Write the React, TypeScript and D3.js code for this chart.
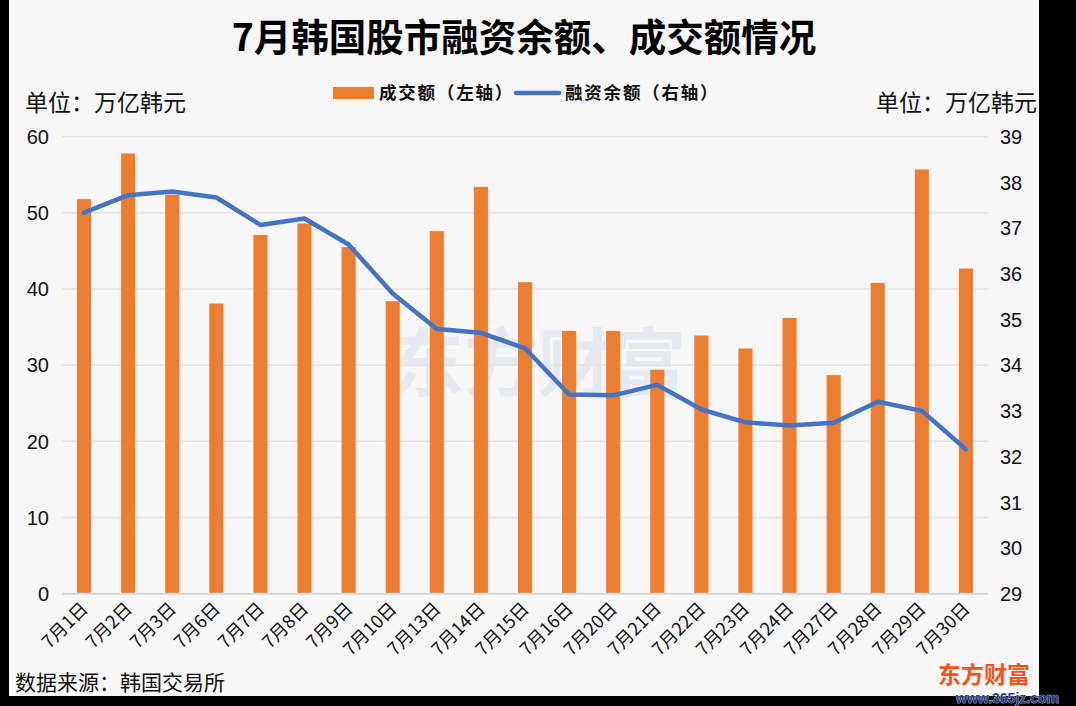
import React, { useEffect, useRef } from "react";
import * as d3 from "d3";

// --- Data
const dates = [
  "7月1日", "7月2日", "7月3日", "7月6日", "7月7日", "7月8日", "7月9日",
  "7月10日", "7月13日", "7月14日", "7月15日", "7月16日", "7月20日", "7月21日",
  "7月22日", "7月23日", "7月24日", "7月27日", "7月28日", "7月29日", "7月30日",
];
const turnover = [
  51.8, 57.8, 52.4, 38.1, 47.1, 48.6, 45.5, 38.4, 47.6, 53.4, 40.9,
  34.5, 34.5, 29.4, 33.9, 32.2, 36.2, 28.7, 40.8, 55.7, 42.7,
];
const marginBalance = [
  37.34, 37.72, 37.8, 37.67, 37.07, 37.21, 36.64, 35.57, 34.79, 34.71, 34.37,
  33.36, 33.34, 33.57, 33.03, 32.75, 32.68, 32.74, 33.2, 33.0, 32.16,
];
const leftTicks = [0, 10, 20, 30, 40, 50, 60];
const rightTicks = [29, 30, 31, 32, 33, 34, 35, 36, 37, 38, 39];

const FONT = "'Liberation Sans', 'Noto Sans CJK SC', sans-serif";
const CJK = "'Noto Sans CJK SC', sans-serif";

const App: React.FC = () => {
  const ref = useRef<SVGSVGElement | null>(null);

  useEffect(() => {
    if (!ref.current) return;
    const width = 1076;
    const height = 706;
    const plot = { left: 62, right: 988, top: 136.7, bottom: 593.7 };

    const svg = d3.select(ref.current).attr("width", width).attr("height", height);
    svg.selectAll("*").remove();

    // frame
    svg.append("rect").attr("width", width).attr("height", height).attr("fill", "#000");
    svg.append("rect").attr("x", 9).attr("y", 0).attr("width", 1030).attr("height", 696).attr("fill", "#f7f7f7");

    const x = d3.scaleBand<string>().domain(dates).range([plot.left, plot.right]).paddingInner(0.68).paddingOuter(0.34);
    const yL = d3.scaleLinear().domain([0, 60]).range([plot.bottom, plot.top]);
    const yR = d3.scaleLinear().domain([29, 39]).range([plot.bottom, plot.top]);

    // watermark
    svg.append("text")
      .attr("x", 538).attr("y", 390)
      .attr("text-anchor", "middle")
      .style("font-family", CJK).style("font-size", "74px").style("font-weight", "bold")
      .style("fill", "#e5eaf0")
      .text("东方财富");

    // gridlines
    svg.append("g").selectAll("line")
      .data(leftTicks.filter((t) => t !== 0))
      .join("line")
      .attr("x1", plot.left).attr("x2", plot.right)
      .attr("y1", (d) => yL(d)).attr("y2", (d) => yL(d))
      .attr("stroke", "#e3e3e3").attr("stroke-width", 1.5);

    // bars
    svg.append("g").selectAll("rect")
      .data(turnover)
      .join("rect")
      .attr("x", (_, i) => x(dates[i])!)
      .attr("width", x.bandwidth())
      .attr("y", (d) => yL(d))
      .attr("height", (d) => yL(0) - yL(d))
      .attr("fill", "#ed7d31");

    // baseline
    svg.append("line")
      .attr("x1", plot.left).attr("x2", plot.right)
      .attr("y1", yL(0)).attr("y2", yL(0))
      .attr("stroke", "#d6d6d6").attr("stroke-width", 2);

    // line
    const line = d3.line<number>()
      .x((_, i) => x(dates[i])! + x.bandwidth() / 2)
      .y((d) => yR(d));
    svg.append("path")
      .datum(marginBalance)
      .attr("d", line)
      .attr("fill", "none")
      .attr("stroke", "#4472c4")
      .attr("stroke-width", 4.5)
      .attr("stroke-linejoin", "round")
      .attr("stroke-linecap", "round");

    // left axis labels
    svg.append("g").selectAll("text")
      .data(leftTicks)
      .join("text")
      .attr("x", 49).attr("y", (d) => yL(d))
      .attr("dy", "0.36em")
      .attr("text-anchor", "end")
      .style("font-family", FONT).style("font-size", "20px").style("fill", "#111")
      .text((d) => d);

    // right axis labels
    svg.append("g").selectAll("text")
      .data(rightTicks)
      .join("text")
      .attr("x", 1000).attr("y", (d) => yR(d))
      .attr("dy", "0.36em")
      .style("font-family", FONT).style("font-size", "20px").style("fill", "#111")
      .text((d) => d);

    // x labels
    svg.append("g").selectAll("text")
      .data(dates)
      .join("text")
      .attr("transform", (d) => `translate(${x(d)! + x.bandwidth() / 2 + 5}, 610) rotate(-45)`)
      .attr("text-anchor", "end")
      .style("font-family", CJK).style("font-size", "18px").style("fill", "#111")
      .text((d) => d);

    // title
    svg.append("text")
      .attr("x", 524).attr("y", 51)
      .attr("text-anchor", "middle")
      .style("font-family", CJK).style("font-size", "37.5px").style("font-weight", "bold")
      .style("fill", "#000")
      .text("7月韩国股市融资余额、成交额情况");

    // unit labels
    svg.append("text")
      .attr("x", 25).attr("y", 111)
      .style("font-family", CJK).style("font-size", "23px").style("fill", "#111")
      .text("单位：万亿韩元");
    svg.append("text")
      .attr("x", 1037).attr("y", 111)
      .attr("text-anchor", "end")
      .style("font-family", CJK).style("font-size", "23px").style("fill", "#111")
      .text("单位：万亿韩元");

    // legend
    const legend = svg.append("g");
    legend.append("rect").attr("x", 333).attr("y", 87).attr("width", 41).attr("height", 12).attr("fill", "#ed7d31");
    legend.append("text")
      .attr("x", 379).attr("y", 99)
      .style("font-family", CJK).style("font-size", "17.5px").style("font-weight", "bold")
      .style("letter-spacing", "1.8px").style("fill", "#111")
      .text("成交额（左轴）");
    legend.append("line")
      .attr("x1", 516).attr("x2", 559).attr("y1", 93).attr("y2", 93)
      .attr("stroke", "#4472c4").attr("stroke-width", 4.5).attr("stroke-linecap", "round");
    legend.append("text")
      .attr("x", 565).attr("y", 99)
      .style("font-family", CJK).style("font-size", "17.5px").style("font-weight", "bold")
      .style("letter-spacing", "1.8px").style("fill", "#111")
      .text("融资余额（右轴）");

    // source
    svg.append("text")
      .attr("x", 15).attr("y", 690)
      .style("font-family", CJK).style("font-size", "21px").style("fill", "#111")
      .text("数据来源：韩国交易所");

    // logo
    svg.append("text")
      .attr("x", 938).attr("y", 683)
      .style("font-family", CJK).style("font-size", "23px").style("font-weight", "bold")
      .style("fill", "#f4531c")
      .text("东方财富");
    svg.append("text")
      .attr("x", 956).attr("y", 703)
      .style("font-family", FONT).style("font-size", "14px").style("font-weight", "bold")
      .style("fill", "#1f3f8a").style("stroke", "#fff").style("stroke-width", 0.6).style("paint-order", "stroke")
      .text("www.365jz.com");

    return () => {
      d3.select(ref.current).selectAll("*").remove();
    };
  }, []);

  return <svg ref={ref} style={{ position: "absolute", left: 0, top: 0, display: "block" }}></svg>;
};

export default App;
